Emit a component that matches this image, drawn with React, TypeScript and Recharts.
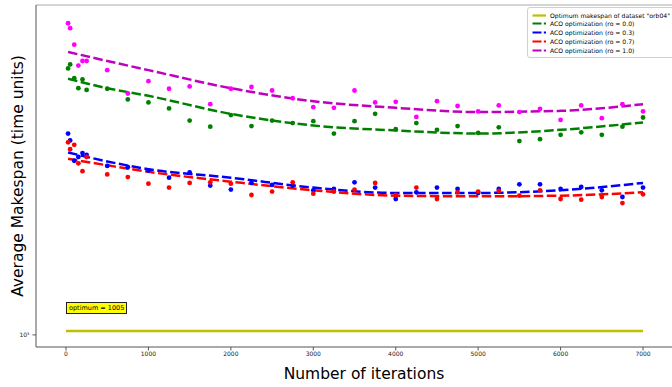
import { ComposedChart, Line, Scatter, XAxis, YAxis, ReferenceLine } from "recharts";

// iterations sampled in the experiment
const ITERATIONS = [
  25, 50, 100, 150, 200, 250, 500, 750, 1000, 1250, 1500, 1750, 2000, 2250, 2500, 2750, 3000,
  3250, 3500, 3750, 4000, 4250, 4500, 4750, 5000, 5250, 5500, 5750, 6000, 6250, 6500, 6750, 7000,
];

// average makespan per run, one list per evaporation rate
const RO_00 = [
  1395, 1402, 1378, 1361, 1376, 1358, 1360, 1342, 1337, 1327, 1307, 1297, 1316, 1298, 1307, 1303, 1306,
  1286, 1306, 1318, 1293, 1303, 1292, 1298, 1287, 1296, 1274, 1277, 1284, 1288, 1284, 1297, 1312,
];
const RO_03 = [
  1286, 1275, 1243, 1249, 1255, 1252, 1235, 1233, 1228, 1217, 1225, 1205, 1199, 1209, 1206, 1205, 1198,
  1200, 1210, 1202, 1185, 1195, 1202, 1200, 1194, 1200, 1207, 1207, 1200, 1203, 1198, 1188, 1202,
];
const RO_07 = [
  1272, 1261, 1268, 1239, 1227, 1249, 1222, 1218, 1208, 1202, 1209, 1210, 1208, 1191, 1196, 1210, 1193,
  1196, 1199, 1209, 1191, 1202, 1185, 1195, 1196, 1197, 1190, 1198, 1185, 1184, 1188, 1179, 1192,
];
const RO_10 = [
  1476, 1467, 1437, 1400, 1408, 1408, 1392, 1352, 1373, 1360, 1364, 1334, 1360, 1363, 1357, 1344, 1329,
  1328, 1357, 1337, 1338, 1313, 1339, 1331, 1322, 1332, 1321, 1326, 1308, 1332, 1311, 1334, 1322,
];

// fitted trend lines, read at these iterations
const TREND_X = [25, 500, 1000, 2000, 3000, 4000, 5000, 6000, 7000];
const FIT_00 = [1377, 1361, 1348, 1318, 1299, 1291, 1286, 1292, 1304];
const FIT_03 = [1256, 1242, 1230, 1217, 1202, 1194, 1194, 1198, 1209];
const FIT_07 = [1246, 1236, 1226, 1211, 1198, 1190, 1189, 1190, 1195];
const FIT_10 = [1424, 1408, 1392, 1361, 1339, 1328, 1321, 1323, 1334];

const OPTIMUM = 1005;
const OPTIMUM_X = [0, 7000];

const X_TICKS = [0, 1000, 2000, 3000, 4000, 5000, 6000, 7000];
const Y_TICKS = [1000];
const Y_MIN = 985;
const Y_MAX = 1510;

const FONT = '"DejaVu Sans", sans-serif';

const SERIES = [
  { name: "ACO optimization (ro = 0.0)", values: RO_00, fit: FIT_00, dot: "#008000", line: "#008000" },
  { name: "ACO optimization (ro = 0.3)", values: RO_03, fit: FIT_03, dot: "#0000ff", line: "#0000ff" },
  { name: "ACO optimization (ro = 0.7)", values: RO_07, fit: FIT_07, dot: "#ff0000", line: "#ff0000" },
  { name: "ACO optimization (ro = 1.0)", values: RO_10, fit: FIT_10, dot: "#ff00ff", line: "#bf00bf" },
];

const toPoints = (xs: number[], ys: number[]) => xs.map((x, i) => ({ x, y: ys[i] }));

function Dot(color: string) {
  return (props: any) => <circle cx={props.cx} cy={props.cy} r={2.4} fill={color} />;
}

function LegendBox() {
  const rows = [
    { label: 'Optimum makespan of dataset "orb04"', color: "#bfbf00", dashed: false },
    ...SERIES.map((s) => ({ label: s.name, color: s.line, dashed: true })),
  ];
  return (
    <div
      style={{
        position: "absolute",
        left: 527,
        top: 7,
        width: 170,
        height: 49,
        border: "1px solid #d0d0d0",
        borderRadius: 3,
        background: "rgba(255,255,255,0.85)",
        fontFamily: FONT,
        fontSize: 6.1,
        color: "#000",
      }}
    >
      {rows.map((r, i) => (
        <div key={i} style={{ position: "absolute", left: 0, top: 2.5 + i * 8.8, height: 9, display: "flex", alignItems: "center", whiteSpace: "nowrap" }}>
          <svg width={22} height={9}>
            <line
              x1={4.5}
              x2={18}
              y1={4.5}
              y2={4.5}
              stroke={r.color}
              strokeWidth={2.2}
              strokeDasharray={r.dashed ? "9 2.3" : undefined}
            />
          </svg>
          <span>{r.label}</span>
        </div>
      ))}
    </div>
  );
}

export default function App() {
  return (
    <div
      style={{
        position: "absolute",
        left: 0,
        top: 0,
        width: 672,
        height: 387,
        overflow: "hidden",
        background: "#fff",
        fontFamily: FONT,
      }}
    >
      <ComposedChart width={700} height={387} margin={{ top: 5, right: 8, bottom: 0, left: 0 }}>
        <XAxis
          type="number"
          dataKey="x"
          domain={[-364, 7594]}
          allowDataOverflow
          ticks={X_TICKS}
          height={40}
          tickSize={3.5}
          tickMargin={1}
          stroke="#555"
          tick={{ fontSize: 6, fill: "#222", fontFamily: FONT }}
          label={{ value: "Number of iterations", position: "insideBottom", offset: 8, fontSize: 15.5, fill: "#000", fontFamily: FONT }}
        />
        <YAxis
          type="number"
          dataKey="y"
          scale="log"
          domain={[Y_MIN, Y_MAX]}
          allowDataOverflow
          ticks={Y_TICKS}
          tickFormatter={() => "10³"}
          width={36}
          tickSize={3.5}
          tickMargin={3}
          stroke="#555"
          tick={{ fontSize: 6, fill: "#222", fontFamily: FONT }}
          label={{
            value: "Average Makespan (time units)",
            angle: -90,
            position: "insideLeft",
            offset: 17,
            style: { textAnchor: "middle" },
            fontSize: 15.5,
            fill: "#000",
            fontFamily: FONT,
          }}
        />
        <ReferenceLine y={Y_MAX} stroke="#aaa" strokeWidth={1} />
        <Line
          data={toPoints(OPTIMUM_X, [OPTIMUM, OPTIMUM])}
          dataKey="y"
          stroke="#bfbf00"
          strokeWidth={2.5}
          dot={false}
          isAnimationActive={false}
        />
        {SERIES.map((s) => (
          <Scatter
            key={"pts" + s.name}
            data={toPoints(ITERATIONS, s.values)}
            dataKey="y"
            fill={s.dot}
            shape={Dot(s.dot)}
            isAnimationActive={false}
          />
        ))}
        {SERIES.map((s) => (
          <Line
            key={"fit" + s.name}
            data={toPoints(TREND_X, s.fit)}
            dataKey="y"
            type="monotone"
            stroke={s.line}
            strokeWidth={2.5}
            strokeDasharray="9.5 3.5"
            dot={false}
            isAnimationActive={false}
          />
        ))}
      </ComposedChart>
      <div
        style={{
          position: "absolute",
          left: 66,
          top: 302,
          height: 10,
          lineHeight: "10px",
          padding: "0 2px",
          background: "#ffff00",
          border: "1px solid #222",
          fontFamily: FONT,
          fontSize: 6.5,
          whiteSpace: "nowrap",
        }}
      >
        optimum = 1005
      </div>
      <LegendBox />
    </div>
  );
}
